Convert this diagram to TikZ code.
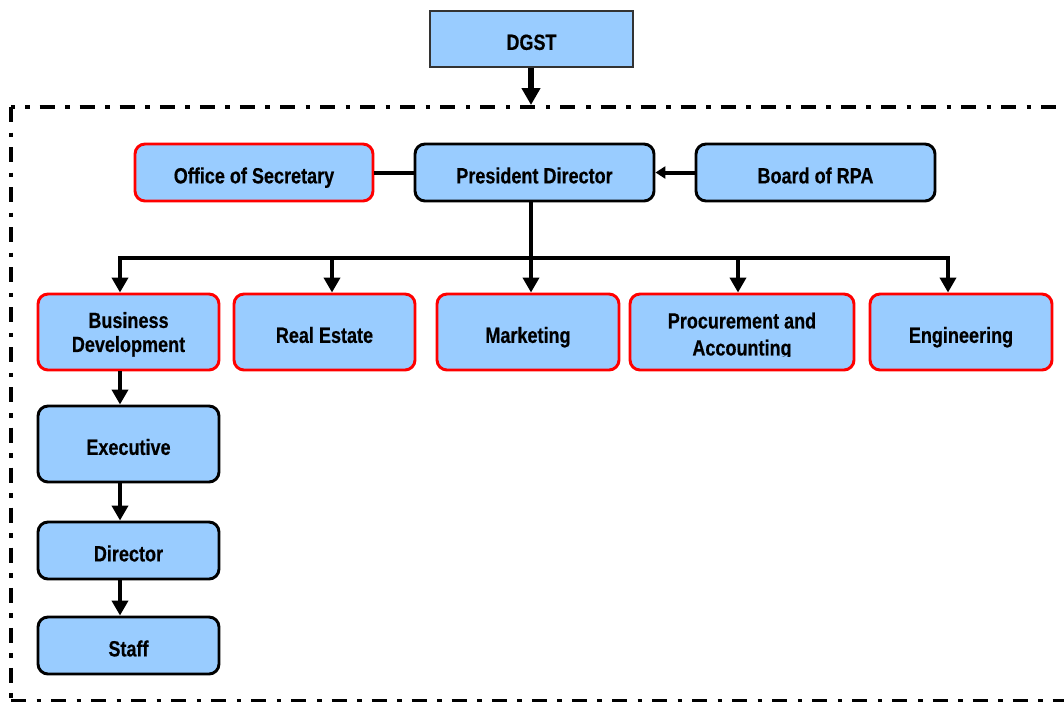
\documentclass[tikz,border=0pt]{standalone}
\usepackage{fontspec}
\setmainfont{Liberation Sans}[FakeStretch=0.82, BoldFeatures={FakeBold=0.4}]
\usetikzlibrary{arrows.meta}

\definecolor{boxblue}{HTML}{99CCFF}
\definecolor{boxred}{HTML}{FF0000}
\definecolor{dgstline}{HTML}{333333}

\tikzset{
  px/.style={x=0.75pt,y=-0.75pt},
  unit/.style={rectangle, rounded corners=7.5pt, fill=boxblue, line width=2.2pt,
    inner sep=0pt, align=center, text height=16.3pt, text depth=0pt,
    font=\fontsize{16.5pt}{18pt}\selectfont\bfseries},
  twolines/.style={text height=, text depth=0pt},
  redunit/.style={unit, draw=boxred},
  blackunit/.style={unit, draw=black},
  topunit/.style={unit, rounded corners=0pt, draw=dgstline, line width=0.9pt},
  label/.style={inner sep=0pt, align=center, text depth=0pt,
    font=\fontsize{16.5pt}{20.25pt}\selectfont\bfseries},
  link/.style={line width=3pt, line cap=rect},
  arr/.style={line width=3pt, -{Triangle[width=12pt,length=11.25pt]}},
  arrbig/.style={line width=4.5pt, -{Triangle[width=13.5pt,length=12.75pt]}},
  arrsmall/.style={line width=3pt, -{Triangle[width=9pt,length=7.5pt]}},
  frame/.style={line width=3pt, dash pattern=on 11.25pt off 7.9pt on 3.4pt off 7.5pt}
}

\begin{document}
\begin{tikzpicture}[px]
\clip (0,0) rectangle (1064,701);
\fill[white] (0,0) rectangle (1064,701);

% dash-dot frame around the organisation
\draw[frame] (11,107) -- (11,702);
\draw[frame, dash phase=8.6pt] (11,107) -- (1080,107);
\draw[frame] (11,701) -- (1080,701);
\coordinate (ftop) at (531,105);

% top authority
\node[topunit, minimum width=203*0.75pt, minimum height=56*0.75pt] (dgst) at (531.5,39) {DGST};

% leadership row
\node[redunit, minimum width=238*0.75pt, minimum height=57*0.75pt] (sec) at (254,172.5) {Office of Secretary};
\node[blackunit, minimum width=239*0.75pt, minimum height=57*0.75pt] (pres) at (534.5,172.5) {President Director};
\node[blackunit, minimum width=239*0.75pt, minimum height=57*0.75pt] (board) at (815.5,172.5) {Board of RPA};

% divisions
\node[redunit, twolines, minimum width=181*0.75pt, minimum height=76*0.75pt] (bd) at (128.5,332) {Business\\Development};
\node[redunit, minimum width=181*0.75pt, minimum height=76*0.75pt] (re) at (324.5,332) {Real Estate};
\node[redunit, minimum width=182*0.75pt, minimum height=76*0.75pt] (mkt) at (528,332) {Marketing};
\node[redunit, minimum width=224*0.75pt, minimum height=76*0.75pt] (proc) at (742,332) {};
\begin{scope}
  \clip (630,300) rectangle (854,356);
  \node[label] (proctext) at (742,334) {Procurement and\\Accounting};
\end{scope}
\node[redunit, minimum width=182*0.75pt, minimum height=76*0.75pt] (eng) at (961,332) {Engineering};

% business development chain
\node[blackunit, minimum width=181*0.75pt, minimum height=76*0.75pt] (exec) at (128.5,444) {Executive};
\node[blackunit, minimum width=181*0.75pt, minimum height=57*0.75pt] (dir) at (128.5,550.5) {Director};
\node[blackunit, minimum width=181*0.75pt, minimum height=57*0.75pt] (staff) at (128.5,645.5) {Staff};

% bus coordinates
\coordinate (bus) at (531,258);
\coordinate (b1) at (120,258);
\coordinate (b2) at (332,258);
\coordinate (b3) at (531,258);
\coordinate (b4) at (738,258);
\coordinate (b5) at (948,258);

% connectors
\draw[arrbig] (dgst.south -| ftop) -- (ftop);
\draw[line width=3pt] (sec.east) -- (pres.west);
\draw[arrsmall] (board.west) -- (pres.east);
\draw[link] (pres.south -| bus) -- (bus);
\draw[link] (b1) -- (b5);
\draw[arr] (b1) -- (b1 |- bd.north);
\draw[arr] (b2) -- (b2 |- re.north);
\draw[arr] (b3) -- (b3 |- mkt.north);
\draw[arr] (b4) -- (b4 |- proc.north);
\draw[arr] (b5) -- (b5 |- eng.north);
\draw[arr] (bd.south -| b1) -- (b1 |- exec.north);
\draw[arr] (exec.south -| b1) -- (b1 |- dir.north);
\draw[arr] (dir.south -| b1) -- (b1 |- staff.north);
\end{tikzpicture}
\end{document}
